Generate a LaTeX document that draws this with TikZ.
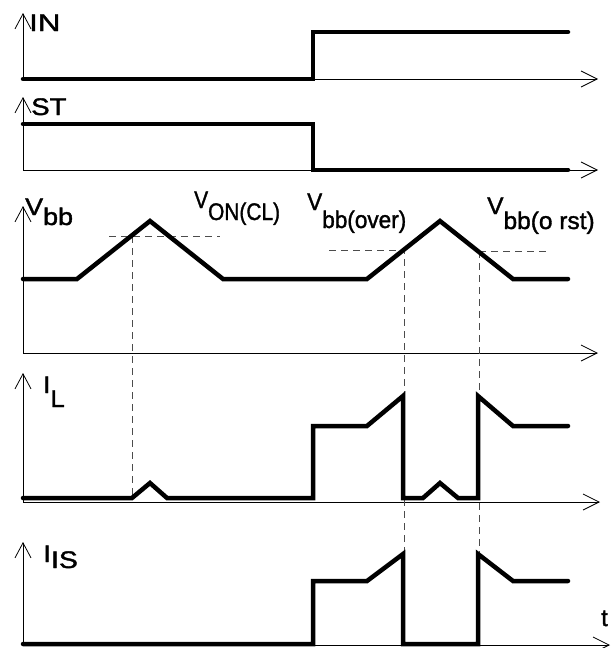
\documentclass[tikz,border=0pt]{standalone}
\usepackage{fontspec}
\setmainfont{Liberation Sans}[FakeBold=1.5]
\usepackage{tikz}
\usetikzlibrary{arrows.meta}

\newcommand{\wider}[2]{\scalebox{#1}[1]{#2}}

\tikzset{
  axis/.style={line width=0.8pt,
    {Straight Barb[length=15pt,width=16pt]}-{Straight Barb[length=16pt,width=16pt]}},
  signal/.style={line width=4.5pt, line cap=round, line join=miter},
  guide/.style={line width=0.9pt, black!70, dash pattern=on 7pt off 5pt},
  lbl/.style={anchor=base west, inner sep=0pt}
}

\begin{document}
\begin{tikzpicture}[x=1pt, y=-1pt, font=\fontsize{24}{28}\selectfont]
  \useasboundingbox (0,0) rectangle (615,648);

  % axes: base, top of y-axis, end of t-axis
  \def\drawAxis#1#2#3{
    \draw[axis] (23,#2) -- (23,#1) -- (#3,#1);
  }
  \drawAxis{79}{13}{598}
  \drawAxis{170}{97}{598}
  \drawAxis{353}{206}{598}
  \drawAxis{502}{373}{600}
  \drawAxis{645}{542}{610}

  % dashed guides
  \coordinate (onCL) at (132,236);
  \coordinate (over) at (404,250);
  \coordinate (orst) at (479,251);
  \draw[guide] (109,236) -- (220,236);
  \draw[guide] (onCL) -- (132,498);
  \draw[guide] (329,250) -- (over) -- (404,554);
  \draw[guide] (orst) -- (550,251);
  \draw[guide] (orst) -- (479,554);

  % signals
  \draw[signal] (23,79) -- (313,79) -- (313,32) -- (568,32);
  \draw[signal] (23,124) -- (313,124) -- (313,170) -- (568,170);
  \draw[signal] (23,279) -- (77,279) -- (150,221) -- (223,279) -- (367,279)
    -- (440,221) -- (513,279) -- (568,279);
  \draw[signal] (23,498) -- (132,498) -- (150,483) -- (167,498) -- (313,498)
    -- (313,426) -- (367,426) -- (403,396) -- (403,498) -- (423,498)
    -- (440,483) -- (458,498) -- (478,498) -- (478,396) -- (513,426) -- (568,426);
  \draw[signal] (23,644) -- (313,644) -- (313,581) -- (367,581) -- (403,554)
    -- (403,644) -- (478,644) -- (478,554) -- (513,581) -- (568,581);

  % labels
  \node[lbl] (in) at (29,31) {\wider{1.3}{IN}};
  \node[lbl] (st) at (31,115) {\wider{1.15}{ST}};
  \node[lbl] (vbb) at (25,215) {\wider{1.12}{V\raisebox{-10pt}{bb}}};
  \node[lbl] (von) at (194,208) {\wider{0.87}{V\raisebox{-12pt}{ON(CL)}}};
  \node[lbl] (vover) at (307,210) {\wider{0.94}{V\raisebox{-18pt}{bb(over)}}};
  \node[lbl] (vorst) at (487,214) {\wider{1.02}{V\raisebox{-15pt}{bb(o rst)}}};
  \node[lbl] (il) at (43,393) {\wider{1.08}{I\raisebox{-14pt}{L}}};
  \node[lbl] (iis) at (43,562) {\wider{1.18}{I\raisebox{-6pt}{IS}}};
  \node[lbl] (t) at (601,626) {t};
\end{tikzpicture}
\end{document}
